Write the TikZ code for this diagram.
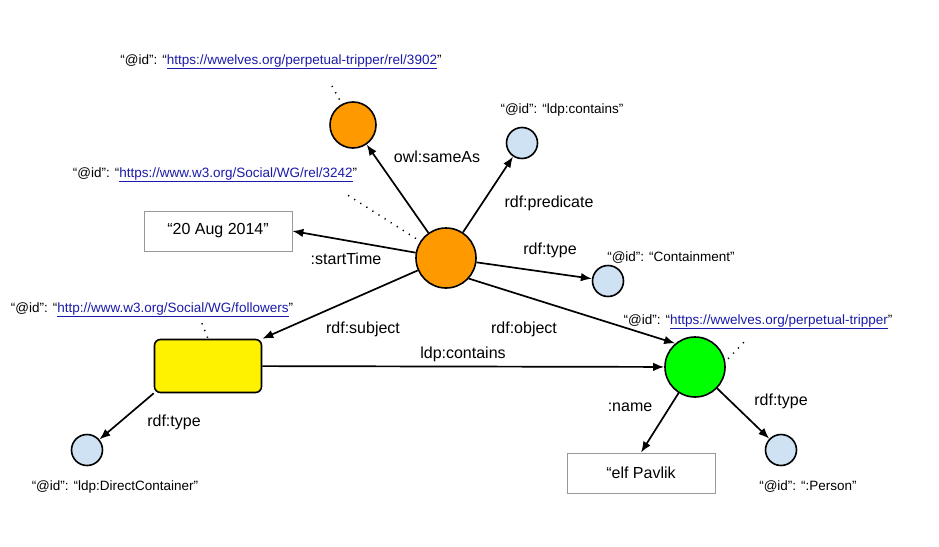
\documentclass[tikz,border=0pt]{standalone}
\usepackage{fontspec}
\setmainfont{Liberation Sans}
\usepackage{xcolor}
\usetikzlibrary{arrows.meta,positioning,calc}
\definecolor{stmtorange}{HTML}{FF9900}
\definecolor{typeblue}{HTML}{CFE2F3}
\definecolor{linkblue}{HTML}{1A1AAA}
\newcommand{\weblink}[1]{\textcolor{linkblue}{\underline{#1}}}

\begin{document}
\begin{tikzpicture}[x=1pt, y=-1pt, >={Latex[length=11pt,width=8.5pt]},
  res/.style={circle, draw, line width=1.6pt, inner sep=0pt},
  lit/.style={draw=gray!80, line width=0.8pt, minimum width=148pt, minimum height=40pt, font=\fontsize{16}{19}\selectfont},
  lbl/.style={font=\fontsize{16}{19}\selectfont, inner sep=0pt},
  idl/.style={font=\fontsize{13.5}{16}\selectfont, inner sep=0pt},
  rel/.style={->, line width=1.7pt},
  elided/.style={line width=1.5pt, dash pattern=on 1.2pt off 6pt}]
  \useasboundingbox (0,0) rectangle (939,546);
  % resources and literals
  \node[res, fill=stmtorange, minimum size=60pt](c) at (446,258){};
  \node[res, fill=stmtorange, minimum size=46pt](sa) at (353,125){};
  \node[res, fill=typeblue, minimum size=31pt](pr) at (522,143){};
  \node[res, fill=typeblue, minimum size=31pt](ct) at (608,281){};
  \node[lit](dt) at (218,231){“20 Aug 2014”};
  \node[draw, line width=1.6pt, rounded corners=6pt, fill=yellow, minimum width=107pt, minimum height=53pt](fl) at (208,366){};
  \node[res, fill=green, minimum size=60pt](tr) at (695,367){};
  \node[res, fill=typeblue, minimum size=31pt](dc) at (87,450){};
  \node[res, fill=typeblue, minimum size=31pt](ps) at (781,450){};
  \node[lit](nm) at (641,473){“elf Pavlik};
  % edges
  \draw[rel](c)--(sa); \draw[rel](c)--(pr); \draw[rel](c)--(dt.east);
  \draw[rel](c)--(ct); \draw[rel](c)--(fl.north east); \draw[rel](c.-42)--(tr.130);
  \draw[rel](fl)--(tr); \draw[rel](fl.south west)--(dc);
  \draw[rel](tr)--(nm.north); \draw[rel](tr)--(ps);
  % edge labels
  \node[lbl](lsa) at (437,157){owl:sameAs};
  \node[lbl](lpr) at (549,203){rdf:predicate};
  \node[lbl](lst) at (346,259){:startTime};
  \node[lbl](lct) at (550,250){rdf:type};
  \node[lbl](lsu) at (363,329){rdf:subject};
  \node[lbl](lob) at (524,329){rdf:object};
  \node[lbl](llc) at (463,354){ldp:contains};
  \node[lbl](ldc) at (174,422){rdf:type};
  \node[lbl](lnm) at (630,407){:name};
  \node[lbl](lps) at (781,401){rdf:type};
  % identifiers
  \node[idl](i1) at (281,62){“@id”: “\weblink{https://wwelves.org/perpetual-tripper/rel/3902}"};
  \node[idl](i2) at (215,175){“@id”: “\weblink{https://www.w3.org/Social/WG/rel/3242}"};
  \node[idl](i3) at (562,110){“@id”: “ldp:contains”};
  \node[idl](i4) at (671,258){“@id”: “Containment”};
  \node[idl](i5) at (152,310){“@id”: “\weblink{http://www.w3.org/Social/WG/followers}"};
  \node[idl](i6) at (758,322){“@id”: “\weblink{https://wwelves.org/perpetual-tripper}"};
  \node[idl](i7) at (115,487){“@id”: “ldp:DirectContainer”};
  \node[idl](i8) at (808,487){“@id”: “:Person”};
  % elided links to the identifiers
  \coordinate (e1) at (332,86);  \draw[elided, shorten <=5pt](sa.118)--(e1);
  \coordinate (e2) at (346,194); \draw[elided, shorten <=5pt](c.147)--(e2);
  \coordinate (e3) at (201,321); \draw[elided, shorten <=1pt](fl.north)--(e3);
  \coordinate (e4) at (746,340); \draw[elided, shorten <=4pt](tr.10)--(e4);
\end{tikzpicture}
\end{document}
